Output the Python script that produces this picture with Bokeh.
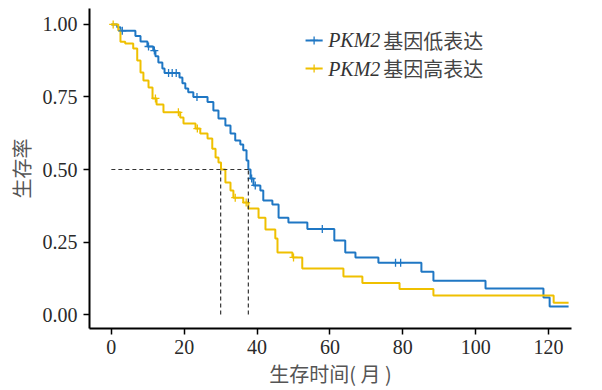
from bokeh.plotting import figure
from bokeh.models import Range1d, FixedTicker, NumeralTickFormatter, Label
from bokeh.embed import file_html
from bokeh.resources import INLINE

# ---- data ----
# PKM2 low expression (blue)
low_time = [0, 1.6, 2.5, 6.6, 8.0, 9.9, 11.5, 12.1, 12.9, 14.0, 14.6, 18.7, 19.5, 20.3, 21.1,
            22.5, 26.4, 28.0, 29.4, 31.3, 32.7, 34.0, 35.4, 36.2, 37.1, 37.6, 38.2, 39.0,
            40.9, 41.7, 44.2, 45.9, 48.6, 53.8, 61.2, 64.2, 67.0, 73.3, 85.1, 88.4, 102.7,
            118.6, 120.3, 125.5]
low_surv = [1.0, 0.99, 0.978, 0.960, 0.941, 0.924, 0.910, 0.890, 0.869, 0.848, 0.833, 0.817,
            0.797, 0.779, 0.766, 0.750, 0.733, 0.703, 0.676, 0.652, 0.624, 0.600, 0.586, 0.566,
            0.531, 0.500, 0.469, 0.445, 0.428, 0.393, 0.379, 0.334, 0.317, 0.295, 0.255, 0.214,
            0.197, 0.179, 0.148, 0.117, 0.090, 0.059, 0.028, 0.028]
low_cens_t = [3.0, 10.2, 11.8, 15.7, 16.7, 17.8, 23.5, 38.5, 39.5, 57.9, 78.0, 79.4]
low_cens_s = [0.978, 0.924, 0.910, 0.833, 0.833, 0.833, 0.750, 0.469, 0.445, 0.295, 0.179, 0.179]

# PKM2 high expression (yellow)
high_time = [0, 1.9, 2.5, 3.8, 6.0, 7.1, 8.0, 8.8, 10.2, 11.3, 12.4, 14.3, 18.9, 19.8, 23.1,
             24.4, 26.4, 27.7, 28.6, 29.4, 30.1, 31.3, 32.7, 33.5, 36.2, 37.6, 40.4, 42.3,
             45.0, 45.6, 49.7, 52.4, 63.7, 68.9, 79.1, 88.4, 121.4, 125.5]
high_surv = [1.0, 0.979, 0.940, 0.934, 0.917, 0.876, 0.834, 0.807, 0.783, 0.745, 0.724, 0.697,
             0.679, 0.659, 0.641, 0.624, 0.607, 0.572, 0.541, 0.524, 0.500, 0.455, 0.428, 0.403,
             0.386, 0.366, 0.334, 0.293, 0.262, 0.214, 0.197, 0.159, 0.131, 0.109, 0.088, 0.066,
             0.041, 0.041]
high_cens_t = [0.5, 12.1, 18.4, 23.6, 34.0, 37.0, 50.0]
high_cens_s = [1.0, 0.745, 0.697, 0.641, 0.403, 0.386, 0.197]

median_low = 37.6
median_high = 30.0

x_ticks = [0, 20, 40, 60, 80, 100, 120]
y_ticks = [0, 0.25, 0.5, 0.75, 1.0]

legend_labels = ["基因低表达", "基因高表达"]
gene = "PKM2"

BLUE = "#1f77c4"
YELLOW = "#EFC000"
LAT = "Liberation Serif"
CJK = "Noto Sans CJK SC"

p = figure(width=602, height=390, x_range=Range1d(-6.0, 126.3), y_range=Range1d(-0.048, 1.055),
           output_backend="svg", toolbar_location=None,
           min_border_left=89, min_border_right=31, min_border_top=8, min_border_bottom=62)
p.outline_line_color = None
p.xgrid.grid_line_color = None
p.ygrid.grid_line_color = None
p.background_fill_color = "white"
p.border_fill_color = "white"

# curves
p.step(low_time, low_surv, mode="after", line_color=BLUE, line_width=2)
p.step(high_time, high_surv, mode="after", line_color=YELLOW, line_width=2)
p.scatter(low_cens_t, low_cens_s, marker="cross", size=8, line_color=BLUE, line_width=1.3)
p.scatter(high_cens_t, high_cens_s, marker="cross", size=8, line_color=YELLOW, line_width=1.3)

# median lines
p.line([0, median_low], [0.5, 0.5], line_color="#333333", line_width=1.2, line_dash="4 3")
p.line([median_high, median_high], [0, 0.5], line_color="#333333", line_width=1.2, line_dash="4 3")
p.line([median_low, median_low], [0, 0.5], line_color="#333333", line_width=1.2, line_dash="4 3")

# legend (manual, mixed italic)
leg_x0, leg_x1 = 53.3, 58.0
leg_ys = [0.945, 0.848]
for ly, col, lab in zip(leg_ys, [BLUE, YELLOW], legend_labels):
    p.line([leg_x0, leg_x1], [ly, ly], line_color=col, line_width=2)
    p.scatter([(leg_x0 + leg_x1) / 2], [ly], marker="cross", size=8, line_color=col, line_width=1.3)
    p.add_layout(Label(x=59.5, y=ly, text=gene, text_font=LAT, text_font_style="italic",
                       text_font_size="20px", text_color="#333333", text_baseline="middle"))
    p.add_layout(Label(x=59.5, y=ly, x_offset=55, text=lab, text_font=CJK,
                       text_font_size="20px", text_color="#444444", text_baseline="middle"))

# axes
for ax in (p.xaxis, p.yaxis):
    ax.axis_line_width = 2
    ax.axis_line_color = "black"
    ax.major_tick_line_width = 1.5
    ax.major_tick_line_color = "black"
    ax.major_tick_out = 6
    ax.major_tick_in = 0
    ax.minor_tick_line_color = None
    ax.major_label_text_font = LAT
    ax.major_label_text_font_size = "20px"
    ax.major_label_text_color = "#2a2a2a"
    ax.axis_label_text_font = CJK
    ax.axis_label_text_font_size = "20px"
    ax.axis_label_text_font_style = "normal"
    ax.axis_label_text_color = "#555555"

p.xaxis.ticker = FixedTicker(ticks=x_ticks)
p.yaxis.ticker = FixedTicker(ticks=y_ticks)
p.yaxis.formatter = NumeralTickFormatter(format="0.00")
p.xaxis.axis_label = "生存时间( 月 )"
p.yaxis.axis_label = "生存率"
p.xaxis.major_label_standoff = 5
p.yaxis.major_label_standoff = 6
p.xaxis.axis_label_standoff = 2
p.yaxis.axis_label_standoff = 4

open("out.html", "w").write(file_html(p, INLINE))
